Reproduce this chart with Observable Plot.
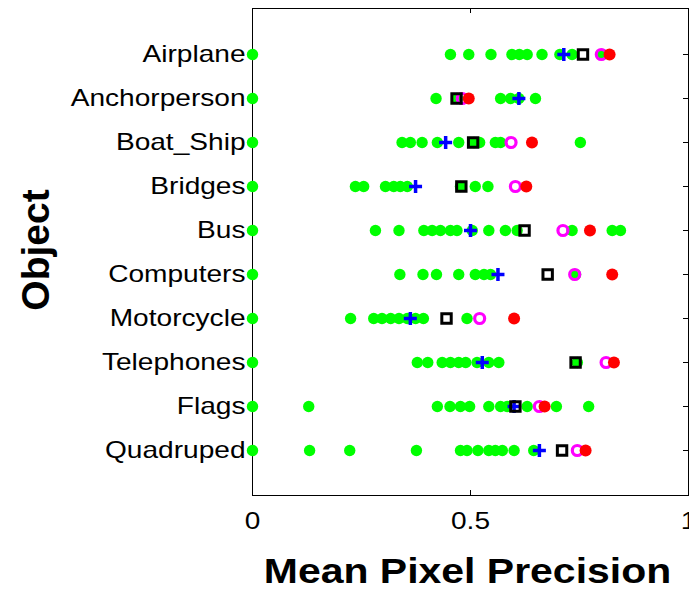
<!DOCTYPE html>
<html>
<head>
<meta charset="utf-8">
<script src="https://cdn.jsdelivr.net/npm/d3@7"></script>
<script src="https://cdn.jsdelivr.net/npm/@observablehq/plot@0.6"></script>
<style>
  html, body { margin: 0; padding: 0; background: #fff; }
  svg { display: block; }
</style>
</head>
<body>
<div id="chart"></div>
<script>
// ---- data ----
const categories = ["Airplane","Anchorperson","Boat_Ship","Bridges","Bus","Computers","Motorcycle","Telephones","Flags","Quadruped"];

// green dots (individual results) per category, same order as categories
const greenValues = [
  [0, 0.454, 0.496, 0.547, 0.595, 0.612, 0.630, 0.664, 0.705, 0.733, 0.802],
  [0, 0.421, 0.469, 0.569, 0.592, 0.611, 0.649],
  [0, 0.343, 0.362, 0.389, 0.424, 0.473, 0.508, 0.521, 0.557, 0.569, 0.752],
  [0, 0.236, 0.255, 0.305, 0.324, 0.339, 0.355, 0.477, 0.511, 0.540],
  [0, 0.282, 0.336, 0.393, 0.412, 0.431, 0.454, 0.469, 0.504, 0.542, 0.580, 0.607, 0.733, 0.825, 0.844],
  [0, 0.338, 0.391, 0.422, 0.473, 0.511, 0.531, 0.546, 0.741],
  [0, 0.225, 0.278, 0.297, 0.317, 0.336, 0.355, 0.374, 0.392, 0.492],
  [0, 0.378, 0.402, 0.435, 0.454, 0.473, 0.489, 0.515, 0.542, 0.565, 0.745],
  [0, 0.129, 0.424, 0.453, 0.477, 0.498, 0.542, 0.569, 0.584, 0.630, 0.697, 0.771],
  [0, 0.131, 0.223, 0.376, 0.477, 0.492, 0.517, 0.542, 0.557, 0.573, 0.600, 0.645]
];
const bluePlusValues     = [0.714, 0.611, 0.443, 0.374, 0.500, 0.563, 0.362, 0.527, 0.600, 0.658];
const blackSquareValues  = [0.758, 0.468, 0.506, 0.479, 0.624, 0.677, 0.445, 0.741, 0.603, 0.710];
const magentaRingValues  = [0.800, 0.481, 0.593, 0.603, 0.712, 0.739, 0.521, 0.811, 0.658, 0.745];
const redDotValues       = [0.819, 0.496, 0.641, 0.628, 0.774, 0.825, 0.600, 0.829, 0.670, 0.764];
const xTicks = [0, 0.5, 1];
const xLabel = "Mean Pixel Precision";
const yLabel = "Object";

// ---- tables ----
const green = categories.flatMap((c, i) => greenValues[i].map(v => ({cat: c, v})));
const mk = arr => categories.map((c, i) => ({cat: c, v: arr[i]}));

// custom stroke symbols
const plusSymbol = { draw(ctx, size) { const r = Math.sqrt(size / Math.PI); ctx.moveTo(-r, 0); ctx.lineTo(r, 0); ctx.moveTo(0, -r); ctx.lineTo(0, r); } };
const squareSymbol = { draw(ctx, size) { const r = Math.sqrt(size / Math.PI); ctx.rect(-r, -r, 2 * r, 2 * r); } };

const W = 689, H = 592;
const mL = 252, mR = 1, mT = 8, mB = 97;
const innerW = W - mL - mR, innerH = H - mT - mB;
const tick = 5;
const font = "'Liberation Sans', Arial, Helvetica, sans-serif";

const chart = Plot.plot({
  width: W, height: H,
  marginLeft: mL, marginRight: mR, marginTop: mT, marginBottom: mB,
  style: {fontFamily: font, fontSize: "24px", color: "#000", background: "#fff", overflow: "visible"},
  x: {domain: [0, 1]},
  y: {type: "point", domain: categories, padding: 1},
  marks: [
    Plot.frame({stroke: "#000", strokeWidth: 1}),
    Plot.ruleX(xTicks, {stroke: "#000", insetTop: innerH - tick}),
    Plot.ruleX(xTicks, {stroke: "#000", insetBottom: innerH - tick}),
    Plot.ruleY(categories, {stroke: "#000", insetLeft: innerW - tick}),
    Plot.axisX({ticks: xTicks, tickFormat: d => String(d), tickSize: 0, tickPadding: 16, fontSize: 24, label: null}),
    Plot.axisY({tickSize: 0, tickPadding: 7, fontSize: 24, label: null}),
    Plot.dot(green, {x: "v", y: "cat", r: 5.7, fill: "#00ff00", stroke: null}),
    Plot.dot(mk(bluePlusValues), {x: "v", y: "cat", symbol: plusSymbol, r: 6.5, fill: "none", stroke: "#0000ff", strokeWidth: 3.5}),
    Plot.dot(mk(magentaRingValues), {x: "v", y: "cat", symbol: "circle", r: 5, fill: "none", stroke: "#ff00ff", strokeWidth: 3.2}),
    Plot.dot(mk(blackSquareValues), {x: "v", y: "cat", symbol: squareSymbol, r: 4.7, fill: "none", stroke: "#000", strokeWidth: 3}),
    Plot.dot(mk(redDotValues), {x: "v", y: "cat", r: 6, fill: "#ff0000", stroke: null}),
    Plot.text([xLabel], {frameAnchor: "bottom", dx: -3, dy: 87, lineAnchor: "bottom", fontSize: 35, fontWeight: "bold", fill: "#000"}),
    Plot.text([yLabel], {frameAnchor: "left", dx: -216, dy: -2, rotate: -90, lineAnchor: "middle", textAnchor: "middle", fontSize: 39, fontWeight: "bold", fill: "#000"})
  ]
});
document.getElementById("chart").append(chart);

// widen horizontal text slightly to match the reference's wide Helvetica rendering
chart.querySelectorAll("text").forEach(t => {
  if ((t.getAttribute("transform") || "").includes("rotate")) return;
  const w = t.getComputedTextLength();
  if (w > 0) {
    t.setAttribute("textLength", (w * 1.17).toFixed(1));
    t.setAttribute("lengthAdjust", "spacingAndGlyphs");
  }
});
</script>
</body>
</html>
